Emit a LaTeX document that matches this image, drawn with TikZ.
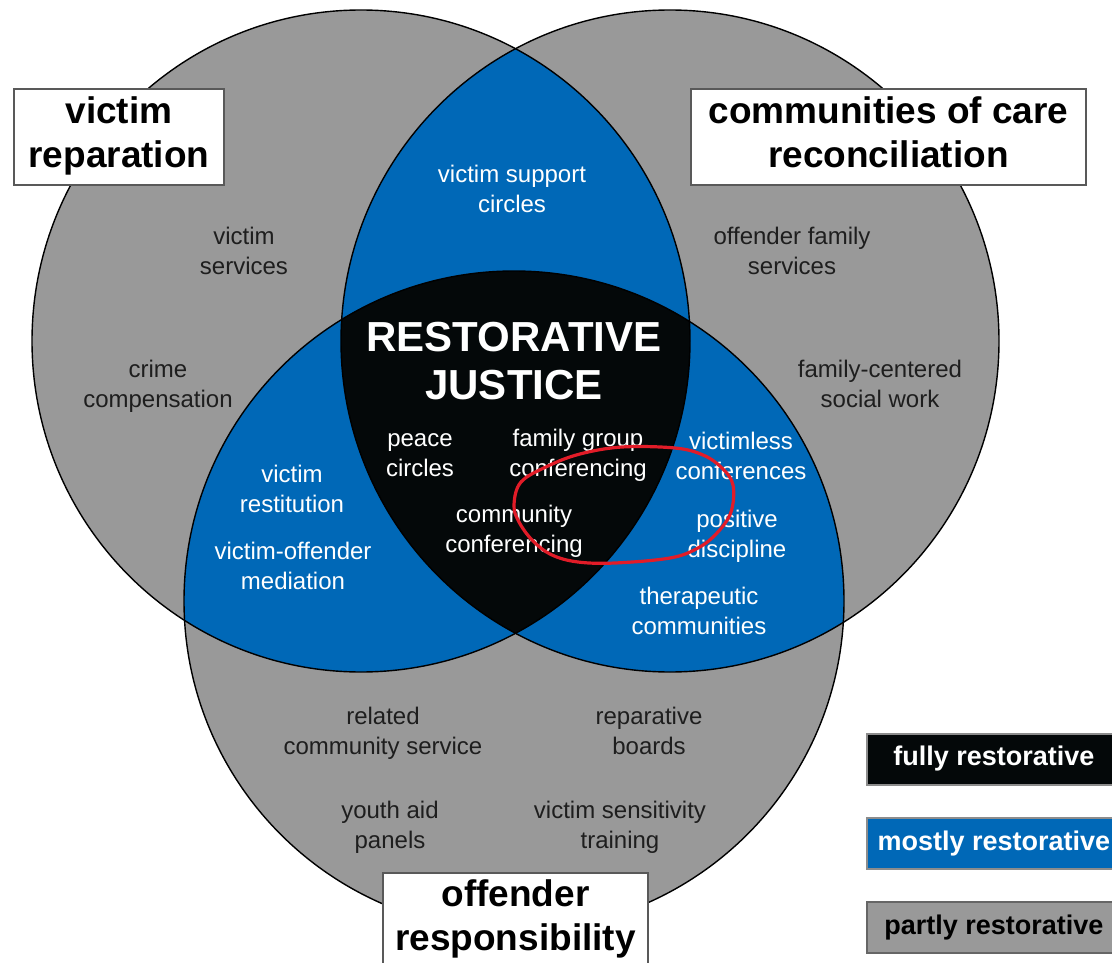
\documentclass[tikz,border=0pt]{standalone}
\usepackage{fontspec}
\setmainfont{Liberation Sans}
\definecolor{rjgray}{RGB}{153,153,153}
\definecolor{rjblue}{RGB}{0,104,183}
\definecolor{rjblack}{RGB}{4,8,9}
\definecolor{rjtext}{RGB}{30,30,30}
\definecolor{rjred}{RGB}{226,28,40}
\newcommand\twoline[2]{\strut#1\\\strut#2}
\begin{document}
\begin{tikzpicture}[x=1pt,y=-1pt,
  region/.style={font=\fontsize{24}{30}\selectfont, align=center, inner sep=0pt, text=rjtext},
  wregion/.style={region, text=white},
  titlebox/.style={draw=black!65, line width=1.2pt, fill=white, align=center, inner sep=0pt,
    font=\bfseries\fontsize{37}{44}\selectfont, text=black},
  legendbox/.style={draw=black!45, line width=2pt, minimum width=254pt, minimum height=51pt,
    inner sep=0pt, font=\bfseries\fontsize{27}{32}\selectfont},
  outline/.style={draw=black, line width=1.4pt}]
\useasboundingbox (0,0) rectangle (1112,963);
\clip (0,0) rectangle (1112,963);
% fills
\fill[rjgray] (361,341) ellipse [x radius=329pt, y radius=331pt];
\fill[rjgray] (670,341) ellipse [x radius=329pt, y radius=331pt];
\fill[rjgray] (514,601) ellipse [x radius=330pt, y radius=330pt];
\begin{scope}
  \clip (361,341) ellipse [x radius=329pt, y radius=331pt];
  \fill[rjblue] (670,341) ellipse [x radius=329pt, y radius=331pt];
  \fill[rjblue] (514,601) ellipse [x radius=330pt, y radius=330pt];
\end{scope}
\begin{scope}
  \clip (670,341) ellipse [x radius=329pt, y radius=331pt];
  \fill[rjblue] (514,601) ellipse [x radius=330pt, y radius=330pt];
\end{scope}
\begin{scope}
  \clip (361,341) ellipse [x radius=329pt, y radius=331pt];
  \clip (670,341) ellipse [x radius=329pt, y radius=331pt];
  \fill[rjblack] (514,601) ellipse [x radius=330pt, y radius=330pt];
\end{scope}
% outlines
\draw[outline] (361,341) ellipse [x radius=329pt, y radius=331pt];
\draw[outline] (670,341) ellipse [x radius=329pt, y radius=331pt];
\draw[outline] (514,601) ellipse [x radius=330pt, y radius=330pt];
% title boxes
\node[titlebox, minimum width=210pt, minimum height=96pt] (victimrep) at (119,137) {\twoline{victim}{reparation}};
\node[titlebox, minimum width=395pt, minimum height=96pt] (community) at (888.5,137) {\twoline{communities of care}{reconciliation}};
\node[titlebox, minimum width=265pt, minimum height=94pt] (offender) at (515.5,920) {\twoline{offender}{responsibility}};
% centre
\node[wregion, font=\bfseries\fontsize{42}{48}\selectfont] (rj) at (514,366) {\twoline{RESTORATIVE}{JUSTICE}};
% region texts
\node[wregion] (vsc) at (512,191) {\twoline{victim support}{circles}};
\node[region] (vs) at (244,253) {\twoline{victim}{services}};
\node[region] (ofs) at (792,253) {\twoline{offender family}{services}};
\node[region] (cc) at (158,386) {\twoline{crime}{compensation}};
\node[region] (fcsw) at (880,386) {\twoline{family-centered}{social work}};
\node[wregion] (pc) at (420,455) {\twoline{peace}{circles}};
\node[wregion] (fgc) at (578,455) {\twoline{family group}{conferencing}};
\node[wregion] (vlc) at (741,458) {\twoline{victimless}{conferences}};
\node[wregion] (vr) at (292,491) {\twoline{victim}{restitution}};
\node[wregion] (cconf) at (514,531) {\twoline{community}{conferencing}};
\node[wregion] (pd) at (737,536) {\twoline{positive}{discipline}};
\node[wregion] (vom) at (293,568) {\twoline{victim-offender}{mediation}};
\node[wregion] (tc) at (699,613) {\twoline{therapeutic}{communities}};
\node[region] (rcs) at (383,733) {\twoline{related}{community service}};
\node[region] (rb) at (649,733) {\twoline{reparative}{boards}};
\node[region] (yap) at (390,827) {\twoline{youth aid}{panels}};
\node[region] (vst) at (620,827) {\twoline{victim sensitivity}{training}};
% legend
\node[legendbox, fill=rjblack, text=white] (lfully) at (994,759) {fully restorative};
\node[legendbox, fill=rjblue, text=white] (lmostly) at (994,843.5) {mostly restorative};
\node[legendbox, fill=rjgray, text=black, draw=black!60] (lpartly) at (994,927.5) {partly restorative};
% red hand-drawn loop
\draw[rjred, line width=3.2pt, line cap=round] plot[smooth cycle, tension=0.6] coordinates {
  (521,482) (548,466) (580,454) (622,447) (675,448) (703,455) (722,468) (733,485)
  (731,512) (717,533) (698,548) (670,558) (615,563) (578,562) (552,555) (533,541)
  (519,522) (514,505)};
\end{tikzpicture}
\end{document}
